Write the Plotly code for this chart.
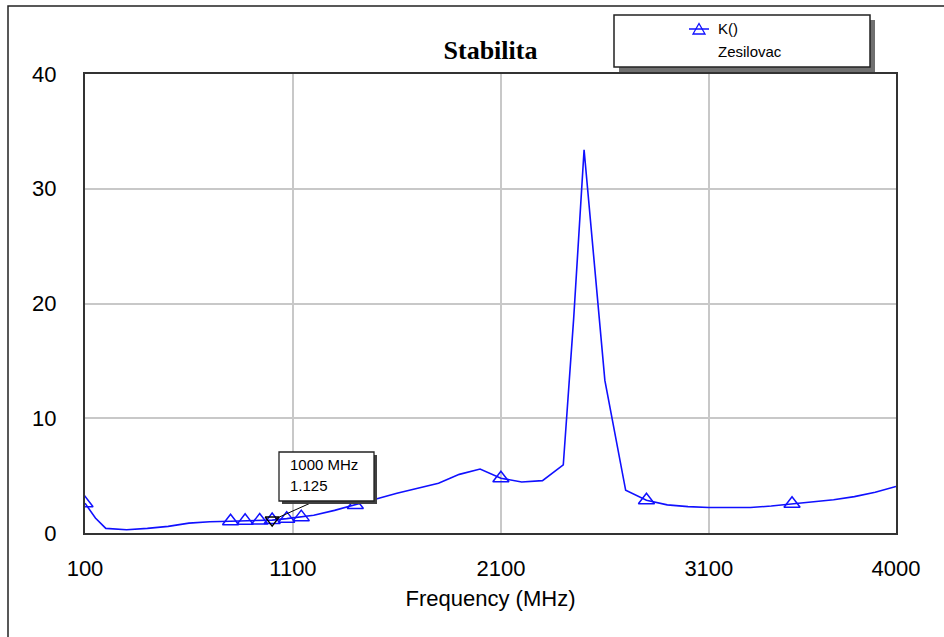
import plotly.graph_objects as go

# Stability factor K() of the amplifier ("Zesilovac") versus frequency
freq_mhz = [100, 150, 200, 300, 400, 500, 600, 700, 800, 870, 940, 1000, 1070, 1140,
            1200, 1300, 1400, 1500, 1600, 1700, 1800, 1900, 2000, 2100, 2200, 2300,
            2400, 2450, 2500, 2600, 2650, 2700, 2800, 2900, 3000, 3100, 3200, 3300,
            3400, 3500, 3600, 3700, 3800, 3900, 4000]
k_factor = [2.6, 1.3, 0.4, 0.28, 0.4, 0.58, 0.86, 0.98, 1.03, 1.06, 1.09, 1.125, 1.25, 1.38,
            1.55, 1.97, 2.44, 2.97, 3.46, 3.87, 4.33, 5.11, 5.58, 4.77, 4.44, 4.56,
            5.93, 18.7, 33.4, 13.3, 8.5, 3.72, 2.85, 2.45, 2.3, 2.22, 2.22, 2.22,
            2.35, 2.55, 2.7, 2.9, 3.17, 3.55, 4.05]

# Sweep points that carry a triangle symbol on the trace
symbol_freqs = [100, 800, 870, 940, 1000, 1070, 1140, 1400, 2100, 2800, 3500]

# Marker readout
marker_freq = 1000
marker_k = k_factor[freq_mhz.index(marker_freq)]

x_ticks = [100, 1100, 2100, 3100, 4000]
y_ticks = [0, 10, 20, 30, 40]

trace_name = "K()"
doc_name = "Zesilovac"
title_text = "Stabilita"
x_title = "Frequency (MHz)"

W, H = 944, 637
ML, MR, MT, MB = 85, 48, 74, 104
PW, PH = W - ML - MR, H - MT - MB


def px(x):
    return (x - ML) / PW


def py(y):
    return (H - MB - y) / PH


BLUE = "#1010ff"

sym_x = [f for f in symbol_freqs]
sym_y = [k_factor[freq_mhz.index(f)] for f in symbol_freqs]

fig = go.Figure()
fig.add_trace(go.Scatter(x=freq_mhz, y=k_factor, mode="lines",
                         line=dict(color=BLUE, width=1.6), showlegend=False,
                         hoverinfo="skip"))
fig.add_trace(go.Scatter(x=sym_x, y=sym_y, mode="markers",
                         marker=dict(symbol="triangle-up-open", size=14,
                                     color=BLUE, line=dict(color=BLUE, width=1.5)),
                         showlegend=False))
fig.add_trace(go.Scatter(x=[marker_freq], y=[marker_k], mode="markers",
                         marker=dict(symbol="triangle-down-open", size=12,
                                     color="black", line=dict(color="black", width=1.5)),
                         showlegend=False))

shapes = []
# outer frame of the graph window
shapes.append(dict(type="rect", xref="paper", yref="paper",
                   x0=px(8), x1=px(980), y0=py(6), y1=py(680),
                   line=dict(color="#222", width=1.5), fillcolor="rgba(0,0,0,0)",
                   layer="below"))
# legend box with drop shadow
shapes.append(dict(type="rect", xref="paper", yref="paper",
                   x0=px(619), x1=px(875), y0=py(20), y1=py(72),
                   line=dict(width=0), fillcolor="#707070", layer="above"))
shapes.append(dict(type="rect", xref="paper", yref="paper",
                   x0=px(614), x1=px(870), y0=py(15), y1=py(67),
                   line=dict(color="#222", width=1.5), fillcolor="white", layer="above"))
# legend line sample and symbol
shapes.append(dict(type="line", xref="paper", yref="paper",
                   x0=px(689), x1=px(709), y0=py(29), y1=py(29),
                   line=dict(color=BLUE, width=1.5), layer="above"))
shapes.append(dict(type="path", xref="paper", yref="paper",
                   path=f"M {px(693)},{py(34)} L {px(705)},{py(34)} L {px(699)},{py(23.5)} Z",
                   line=dict(color=BLUE, width=1.3), fillcolor="rgba(0,0,0,0)",
                   layer="above"))
# marker readout box with shadow and leader line
shapes.append(dict(type="line", xref="paper", yref="paper",
                   x0=px(315), x1=px(275), y0=py(501), y1=py(519),
                   line=dict(color="black", width=1), layer="above"))
shapes.append(dict(type="rect", xref="paper", yref="paper",
                   x0=px(282), x1=px(377), y0=py(455), y1=py(504),
                   line=dict(width=0), fillcolor="#404040", layer="above"))
shapes.append(dict(type="rect", xref="paper", yref="paper",
                   x0=px(279), x1=px(374), y0=py(452), y1=py(501),
                   line=dict(color="#222", width=1.3), fillcolor="white", layer="above"))

small_font = dict(family="Liberation Sans, Arial", size=15, color="black")
annotations = [
    dict(xref="paper", yref="paper", x=px(716), y=py(29), text=trace_name,
         showarrow=False, xanchor="left", yanchor="middle", font=small_font),
    dict(xref="paper", yref="paper", x=px(716), y=py(51), text=doc_name,
         showarrow=False, xanchor="left", yanchor="middle", font=small_font),
    dict(xref="paper", yref="paper", x=px(288), y=py(464), text=f"{marker_freq} MHz",
         showarrow=False, xanchor="left", yanchor="middle", font=small_font),
    dict(xref="paper", yref="paper", x=px(288), y=py(485), text=f"{marker_k}",
         showarrow=False, xanchor="left", yanchor="middle", font=small_font),
]

axis_font = dict(family="Liberation Sans, Arial", size=22, color="black")

fig.update_layout(
    width=W, height=H,
    margin=dict(l=ML, r=MR, t=MT, b=MB),
    paper_bgcolor="white", plot_bgcolor="white",
    title=dict(text=f"<b>{title_text}</b>", x=(ML + PW / 2) / W, xanchor="center",
               y=1 - 50 / H, yanchor="middle", yref="container",
               font=dict(family="Liberation Serif, Times New Roman", size=26, color="black")),
    xaxis=dict(range=[100, 4000], tickvals=x_ticks, ticktext=[str(t) for t in x_ticks],
               showgrid=True, gridcolor="#c8c8c8", gridwidth=1.5,
               showline=True, linecolor="#333", linewidth=2, mirror=True,
               ticks="outside", ticklen=15, tickcolor="rgba(0,0,0,0)",
               tickfont=axis_font, zeroline=False,
               title=dict(text=x_title, font=dict(family="Liberation Sans, Arial", size=22,
                                                  color="black"), standoff=10)),
    yaxis=dict(range=[0, 40], tickvals=y_ticks,
               showgrid=True, gridcolor="#c8c8c8", gridwidth=1.5,
               showline=True, linecolor="#333", linewidth=2, mirror=True,
               ticks="outside", ticklen=22, tickcolor="rgba(0,0,0,0)",
               tickfont=axis_font, zeroline=False),
    shapes=shapes,
    annotations=annotations,
    showlegend=False,
)

fig.write_html("out.html")
